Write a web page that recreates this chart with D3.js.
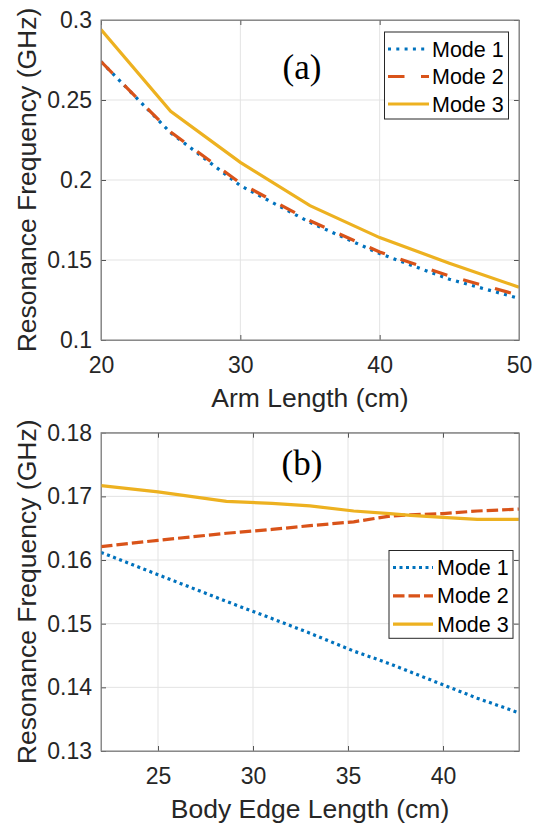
<!DOCTYPE html>
<html>
<head>
<meta charset="utf-8">
<script src="https://cdn.jsdelivr.net/npm/d3@7"></script>
<style>
  body { margin: 0; background: #fff; }
  svg { display: block; }
  svg text { font-family: "Liberation Sans", Arial, Helvetica, sans-serif; }
  svg text.tag { font-family: "Liberation Serif", "Times New Roman", serif; }
</style>
</head>
<body>
<script>
// Panel (a): resonance vs arm length
const armLength = [20, 25, 30, 35, 40, 45, 50];
const armMode1 = [0.274, 0.2295, 0.1965, 0.1735, 0.154, 0.138, 0.126];
const armMode2 = [0.274, 0.230, 0.198, 0.1745, 0.155, 0.140, 0.128];
const armMode3 = [0.294, 0.243, 0.211, 0.184, 0.164, 0.148, 0.133];
const armXTicks = [20, 30, 40, 50];
const armYTicks = [0.1, 0.15, 0.2, 0.25, 0.3];

// Panel (b): resonance vs body edge length
const bodyEdge = [22, 25, 28.6, 31, 33, 35.3, 37.2, 38.3, 40, 41.8, 44];
const bodyMode1 = [0.1612, 0.1577, 0.1535, 0.1508, 0.1485, 0.1457, 0.1437, 0.1424, 0.1404, 0.1383, 0.1360];
const bodyMode2 = [0.1621, 0.1631, 0.1642, 0.1648, 0.1654, 0.1660, 0.1669, 0.1671, 0.1673, 0.1677, 0.1680];
const bodyMode3 = [0.1717, 0.1707, 0.1692, 0.1689, 0.1685, 0.1677, 0.1673, 0.1670, 0.1667, 0.1664, 0.1664];
const bodyXTicks = [25, 30, 35, 40];
const bodyYTicks = [0.13, 0.14, 0.15, 0.16, 0.17, 0.18];

const modeNames = ['Mode 1', 'Mode 2', 'Mode 3'];
const colors = ['#0072BD', '#D95319', '#EDB120'];

const W = 539, H = 826;
const svg = d3.select('body').append('svg')
  .attr('width', W)
  .attr('height', H);

function panel(opts) {
  const { top, bottom, xDomain, yDomain, xTicks, yTicks, xs, series, dashes,
          xLabel, tag, tagY, legend } = opts;
  const left = 101, right = 519;

  const x = d3.scaleLinear().domain(xDomain).range([left, right]);
  const y = d3.scaleLinear().domain(yDomain).range([bottom, top]);

  const g = svg.append('g');
  const id = 'clip' + Math.round(top);
  svg.append('clipPath').attr('id', id)
    .append('rect').attr('x', left).attr('y', top)
    .attr('width', right - left).attr('height', bottom - top);

  // grid
  g.append('g').selectAll('line').data(xTicks).join('line')
    .attr('x1', d => x(d)).attr('x2', d => x(d))
    .attr('y1', top).attr('y2', bottom)
    .attr('stroke', '#e3e3e3').attr('stroke-width', 1);
  g.append('g').selectAll('line').data(yTicks).join('line')
    .attr('x1', left).attr('x2', right)
    .attr('y1', d => y(d)).attr('y2', d => y(d))
    .attr('stroke', '#e3e3e3').attr('stroke-width', 1);

  // axes, ticks inside on all four sides
  const fmt = d => String(+d.toFixed(3));
  g.append('g').attr('transform', `translate(0,${bottom})`)
    .call(d3.axisBottom(x).tickValues(xTicks).tickFormat(fmt)
      .tickSizeInner(-5).tickSizeOuter(0).tickPadding(16.5));
  g.append('g').attr('transform', `translate(${left},0)`)
    .call(d3.axisLeft(y).tickValues(yTicks).tickFormat(fmt)
      .tickSizeInner(-5).tickSizeOuter(0).tickPadding(9));
  g.append('g').attr('transform', `translate(0,${top})`)
    .call(d3.axisTop(x).tickValues(xTicks).tickFormat('')
      .tickSizeInner(-5).tickSizeOuter(0));
  g.append('g').attr('transform', `translate(${right},0)`)
    .call(d3.axisRight(y).tickValues(yTicks).tickFormat('')
      .tickSizeInner(-5).tickSizeOuter(0));
  g.selectAll('g').attr('font-family', null).attr('font-size', null);
  g.selectAll('.domain').attr('stroke', '#8a8a8a');
  g.selectAll('.tick line').attr('stroke', '#555');
  g.selectAll('.tick text').attr('fill', '#262626').style('font-size', '23px');

  // lines
  const line = d3.line().x(d => x(d[0])).y(d => y(d[1]));
  series.forEach((s, i) => {
    g.append('path')
      .datum(xs.map((v, k) => [v, s[k]]))
      .attr('clip-path', `url(#${id})`)
      .attr('fill', 'none')
      .attr('stroke', colors[i])
      .attr('stroke-width', 3.2)
      .attr('stroke-dasharray', dashes[i])
      .attr('d', line);
  });

  // box outline
  g.append('rect').attr('x', left).attr('y', top)
    .attr('width', right - left).attr('height', bottom - top)
    .attr('fill', 'none').attr('stroke', '#8a8a8a').attr('stroke-width', 1);

  // labels
  g.append('text')
    .attr('x', (left + right) / 2).attr('y', bottom + 67)
    .attr('text-anchor', 'middle').attr('fill', '#262626')
    .style('font-size', '26.5px').text(xLabel);
  g.append('text')
    .attr('transform', `translate(36,${(top + bottom) / 2}) rotate(-90)`)
    .attr('text-anchor', 'middle').attr('fill', '#262626')
    .style('font-size', '26.5px').text('Resonance Frequency (GHz)');
  g.append('text').attr('class', 'tag')
    .attr('x', 302).attr('y', tagY)
    .attr('text-anchor', 'middle').attr('fill', '#000')
    .style('font-size', '35px').text(tag);

  // legend
  const lg = g.append('g');
  lg.append('rect').attr('x', legend.x).attr('y', legend.y)
    .attr('width', legend.w).attr('height', legend.h)
    .attr('fill', '#fff').attr('stroke', '#262626').attr('stroke-width', 1);
  modeNames.forEach((name, i) => {
    const by = legend.y + legend.first + i * legend.step;
    lg.append('line')
      .attr('x1', legend.lx1).attr('x2', legend.lx2)
      .attr('y1', by - 7.5).attr('y2', by - 7.5)
      .attr('stroke', colors[i]).attr('stroke-width', 3.2)
      .attr('stroke-dasharray', dashes[i]);
    lg.append('text').attr('x', legend.tx).attr('y', by)
      .attr('fill', '#000').style('font-size', '21.5px').text(name);
  });
}

panel({
  top: 20, bottom: 340,
  xDomain: [20, 50], yDomain: [0.1, 0.3],
  xTicks: armXTicks, yTicks: armYTicks,
  xs: armLength, series: [armMode1, armMode2, armMode3],
  dashes: ['3,5.3', '16.5,16.5', null],
  xLabel: 'Arm Length (cm)', tag: '(a)', tagY: 79,
  legend: { x: 384.5, y: 32, w: 124, h: 87, first: 24.5, step: 27.5,
            lx1: 388, lx2: 429, tx: 432 }
});

panel({
  top: 432.7, bottom: 751,
  xDomain: [22, 44], yDomain: [0.13, 0.18],
  xTicks: bodyXTicks, yTicks: bodyYTicks,
  xs: bodyEdge, series: [bodyMode1, bodyMode2, bodyMode3],
  dashes: ['3,3.5', '11.5,4', null],
  xLabel: 'Body Edge Length (cm)', tag: '(b)', tagY: 475,
  legend: { x: 389, y: 550.5, w: 124, h: 87.8, first: 24.5, step: 28.3,
            lx1: 393, lx2: 433, tx: 437 }
});
</script>
</body>
</html>
